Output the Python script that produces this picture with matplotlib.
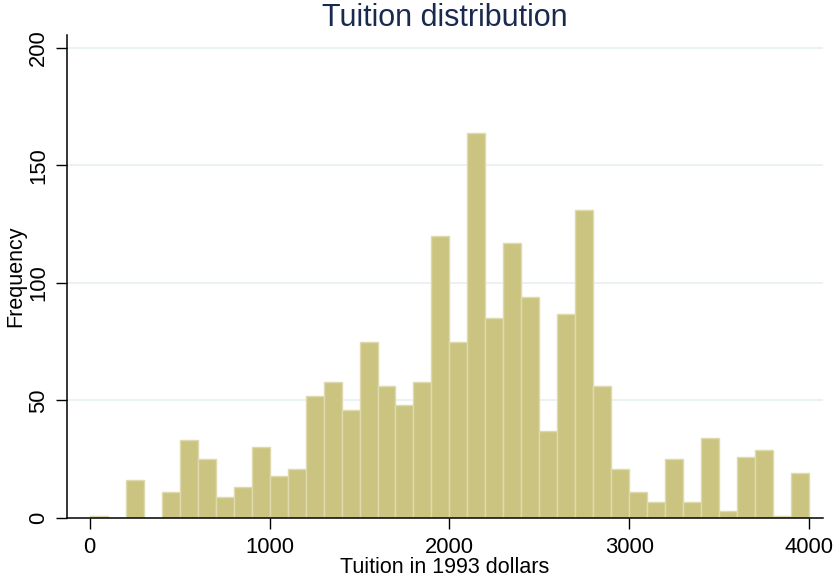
"""Tuition distribution histogram (Stata-like styling)."""

import numpy as np
import matplotlib
matplotlib.use("Agg")
import matplotlib.pyplot as plt

plt.rcParams["font.family"] = ["Liberation Sans", "DejaVu Sans"]

# bin left edges (width 100) and counts
bin_left = [0, 100, 200, 300, 400, 500, 600, 700, 800, 900,
            1000, 1100, 1200, 1300, 1400, 1500, 1600, 1700, 1800, 1900,
            2000, 2100, 2200, 2300, 2400, 2500, 2600, 2700, 2800, 2900,
            3000, 3100, 3200, 3300, 3400, 3500, 3600, 3700, 3800, 3900]
counts = [1, 0, 16, 0, 11, 33, 25, 9, 13, 30,
          18, 21, 52, 58, 46, 75, 56, 48, 58, 120,
          75, 164, 85, 117, 94, 37, 87, 131, 56, 21,
          11, 7, 25, 7, 34, 3, 26, 29, 1, 19]
bin_width = 100

x_ticks = [0, 1000, 2000, 3000, 4000]
y_ticks = [0, 50, 100, 150, 200]

fig = plt.figure(figsize=(8.35, 5.78), dpi=100)
ax = fig.add_axes([0.0802, 0.1038, 0.9054, 0.8356])

ax.bar(bin_left, counts, width=bin_width, align="edge",
       color="#CBC480", edgecolor="#DEDAAE", linewidth=1.0, zorder=2)

ax.set_xlim(-126, 4076)
ax.set_ylim(0, 205.5)
ax.set_xticks(x_ticks)
ax.set_yticks(y_ticks)
ax.set_yticklabels([str(v) for v in y_ticks], rotation=90, va="center")
ax.tick_params(axis="both", labelsize=15.8, length=8, width=1, color="black")
ax.tick_params(axis="y", pad=5)
ax.tick_params(axis="x", pad=6)

for v in y_ticks[1:]:
    ax.axhline(v, color="#E8F0F2", lw=1.2, zorder=1)

for side in ("top", "right"):
    ax.spines[side].set_visible(False)
ax.spines["left"].set_linewidth(1.1)
ax.spines["bottom"].set_linewidth(1.1)

ax.set_xlabel("Tuition in 1993 dollars", fontsize=15.5, labelpad=-1)
ax.set_ylabel("Frequency", fontsize=15.5, labelpad=1)
fig.suptitle("Tuition distribution", fontsize=22, color="#1A2A4F", y=0.995,
             x=0.533)

fig.savefig("out.png", dpi=100)
